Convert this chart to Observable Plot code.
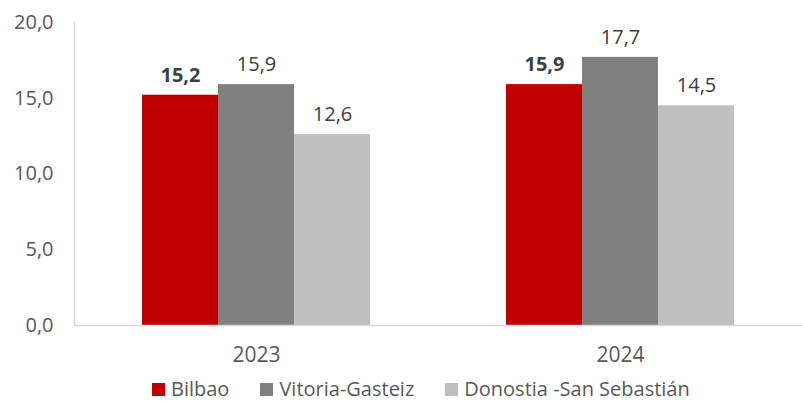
<!DOCTYPE html>
<html>
<head>
<meta charset="utf-8">
<script src="https://cdn.jsdelivr.net/npm/d3@7"></script>
<script src="https://cdn.jsdelivr.net/npm/@observablehq/plot@0.6"></script>
<style>
  html, body { margin: 0; padding: 0; background: #fff; }
  body { width: 802px; height: 402px; overflow: hidden; font-family: "Open Sans", sans-serif; }
  #chart svg { display: block; }
  #legend { display: flex; align-items: center; height: 26px; line-height: 26px; padding-left: 152px; font-size: 20px; color: #595959; }
  .item { display: flex; align-items: center; margin-right: 31px; }
  .sw { width: 13px; height: 13px; margin-right: 6px; }
</style>
</head>
<body>
<div id="chart"></div>
<div id="legend"></div>
<script>
const years = ["2023", "2024"];
const cities = ["Bilbao", "Vitoria-Gasteiz", "Donostia -San Sebastián"];
const colors = ["#C00000", "#808080", "#BFBFBF"];
const values2023 = [15.2, 15.9, 12.6];
const values2024 = [15.9, 17.7, 14.5];
const yTicks = [0, 5, 10, 15, 20];

const data = [];
cities.forEach((c, i) => {
  data.push({year: years[0], city: c, value: values2023[i]});
  data.push({year: years[1], city: c, value: values2024[i]});
});
const fmt = d => d.toFixed(1).replace(".", ",");

const chart = Plot.plot({
  width: 802,
  height: 376,
  marginLeft: 73,
  marginRight: 0,
  marginTop: 22,
  marginBottom: 51,
  style: {fontFamily: "Open Sans, sans-serif", fontSize: "20px", color: "#595959", background: "#fff"},
  fx: {domain: years, padding: 0, label: null},
  x: {domain: cities, paddingInner: 0, paddingOuter: 0.89, axis: null},
  y: {domain: [0, 20], label: null},
  color: {domain: cities, range: colors},
  marks: [
    Plot.barY(data, {fx: "year", x: "city", y: "value", fill: "city"}),
    Plot.ruleY([0], {stroke: "#D9D9D9", strokeWidth: 1.5}),
    Plot.frame({anchor: "left", facetAnchor: "left", stroke: "#D9D9D9", strokeWidth: 1.5}),
    Plot.axisY({ticks: yTicks, tickFormat: fmt, tickSize: 0, tickPadding: 21, fill: "#595959", fontSize: 20, label: null}),
    Plot.axisFx({anchor: "bottom", tickSize: 0, tickPadding: 22, fill: "#595959", fontSize: 21, label: null}),
    Plot.text(data.filter(d => d.city === cities[0]), {fx: "year", x: "city", y: "value", text: d => fmt(d.value), dy: -20, fontWeight: "bold", fill: "#404040", fontSize: 20}),
    Plot.text(data.filter(d => d.city !== cities[0]), {fx: "year", x: "city", y: "value", text: d => fmt(d.value), dy: -20, fill: "#404040", fontSize: 20})
  ]
});
document.getElementById("chart").appendChild(chart);

const legend = document.getElementById("legend");
cities.forEach((c, i) => {
  const item = document.createElement("div");
  item.className = "item";
  const sw = document.createElement("span");
  sw.className = "sw";
  sw.style.background = colors[i];
  const lab = document.createElement("span");
  lab.textContent = c;
  item.appendChild(sw);
  item.appendChild(lab);
  legend.appendChild(item);
});
</script>
</body>
</html>
